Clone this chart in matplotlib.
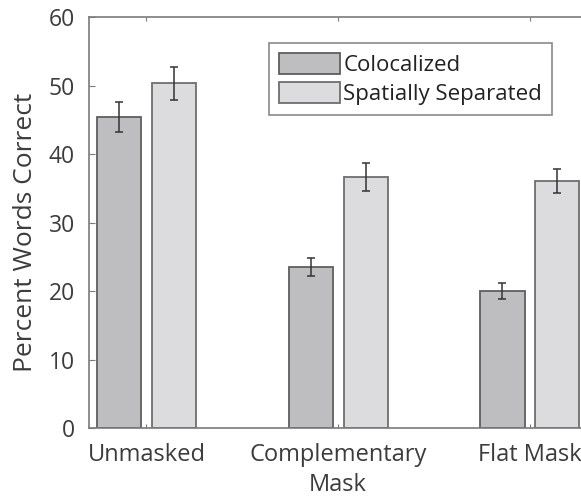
import matplotlib
matplotlib.use("Agg")
import matplotlib.pyplot as plt
import numpy as np

categories = ["Unmasked", "Complementary\nMask", "Flat Mask"]
series_names = ["Colocalized", "Spatially Separated"]
colocalized = [45.4, 23.5, 20.0]
colocalized_err = [2.2, 1.35, 1.15]
separated = [50.3, 36.6, 36.1]
separated_err = [2.35, 2.05, 1.75]
yticks = [0, 10, 20, 30, 40, 50, 60]

plt.rcParams['font.family'] = ['Open Sans', 'DejaVu Sans']
txt = '#3c3c3c'
spine = '#7a7a7a'

fig = plt.figure(figsize=(5.81, 4.97), dpi=100)
ax = fig.add_axes([0.1530, 0.1388, 0.858, 0.827])

x = np.arange(1, len(categories) + 1)
w = 0.23
off = 0.143
ax.bar(x - off, colocalized, w, color='#bebec0', edgecolor='#5e5e5e', linewidth=1.3, label=series_names[0], zorder=2)
ax.bar(x + off, separated, w, color='#dcdcde', edgecolor='#6e6e6e', linewidth=1.3, label=series_names[1], zorder=2)
ax.errorbar(x - off, colocalized, yerr=colocalized_err, fmt='none', ecolor='#333333', elinewidth=1.1, capsize=3, capthick=1.1, zorder=3)
ax.errorbar(x + off, separated, yerr=separated_err, fmt='none', ecolor='#333333', elinewidth=1.1, capsize=3, capthick=1.1, zorder=3)

ax.set_xlim(0.7, 3.3)
ax.set_ylim(0, 60)
ax.set_yticks(yticks)
ax.set_xticks(x)
ax.set_xticklabels(categories, fontsize=17, color=txt, linespacing=1.3)
ax.tick_params(axis='y', labelsize=16.5, labelcolor=txt, direction='in', length=4, color=spine, right=False, pad=10)
ax.tick_params(axis='x', direction='in', length=3, color=spine, top=True, pad=11)
ax.set_ylabel('Percent Words Correct', fontsize=19, color=txt)
ax.yaxis.set_label_coords(-0.103, 0.475)
for s in ax.spines.values():
    s.set_color(spine)
    s.set_linewidth(1.2)

leg = ax.legend(loc='upper left', bbox_to_anchor=(0.361, 0.937), fontsize=16, frameon=True,
                fancybox=False, edgecolor='#8a8a8a', framealpha=1, handlelength=2.75, handleheight=1.05,
                handletextpad=0.15, borderpad=0.45, labelspacing=0.3, borderaxespad=0)
leg.get_frame().set_linewidth(1.2)
for t in leg.get_texts():
    t.set_color('#222222')

fig.savefig('out.png', dpi=100)
